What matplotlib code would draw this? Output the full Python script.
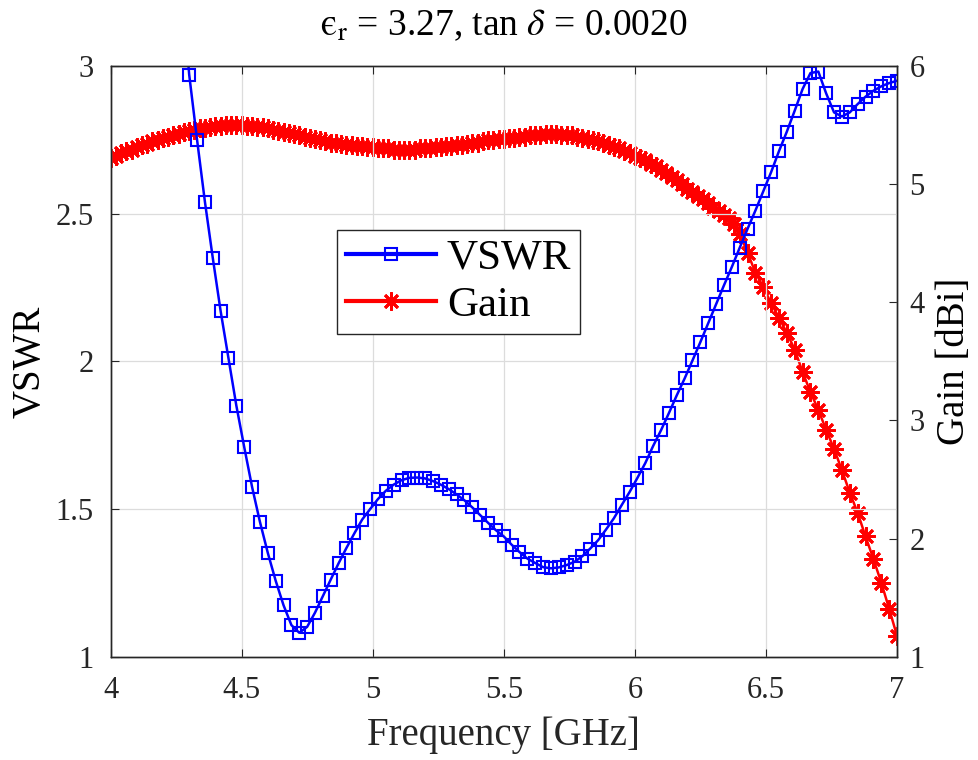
import numpy as np
import matplotlib
matplotlib.use("Agg")
import matplotlib.pyplot as plt

plt.rcParams['font.family'] = ['Liberation Serif', 'DejaVu Serif']
plt.rcParams['mathtext.fontset'] = 'stix'

# VSWR, every 0.03 GHz from 4.27 GHz
vswr = [3.30, 2.97, 2.75, 2.54, 2.35, 2.17, 2.01, 1.85, 1.71, 1.575,
        1.457, 1.352, 1.258, 1.175, 1.108, 1.082, 1.102, 1.150, 1.206, 1.262,
        1.317, 1.369, 1.418, 1.465, 1.500, 1.534, 1.562, 1.583, 1.598, 1.606,
        1.607, 1.604, 1.595, 1.583, 1.568, 1.550, 1.530, 1.506, 1.480, 1.454,
        1.429, 1.408, 1.380, 1.355, 1.333, 1.318, 1.304, 1.300, 1.303, 1.311,
        1.322, 1.341, 1.367, 1.395, 1.431, 1.469, 1.514, 1.558, 1.606, 1.656,
        1.714, 1.767, 1.825, 1.885, 1.942, 2.003, 2.065, 2.129, 2.193, 2.257,
        2.319, 2.384, 2.448, 2.510, 2.575, 2.640, 2.711, 2.777, 2.848, 2.921,
        2.975, 2.980, 2.906, 2.842, 2.828, 2.842, 2.870, 2.895, 2.915, 2.930,
        2.941, 2.949]
f_vswr = np.round(4.27 + 0.03 * np.arange(len(vswr)), 2)

# Gain [dBi], every 0.02 GHz from 4.00 to 6.38
gain_a = [5.22, 5.24, 5.26, 5.28, 5.29, 5.31, 5.33, 5.34, 5.36, 5.37,
          5.39, 5.40, 5.41, 5.42, 5.44, 5.45, 5.46, 5.47, 5.47, 5.48,
          5.49, 5.49, 5.50, 5.50, 5.50, 5.50, 5.49, 5.49, 5.48, 5.48,
          5.47, 5.46, 5.45, 5.44, 5.43, 5.42, 5.41, 5.40, 5.39, 5.38,
          5.37, 5.36, 5.35, 5.35, 5.34, 5.33, 5.33, 5.32, 5.32, 5.31,
          5.31, 5.30, 5.30, 5.30, 5.29, 5.29, 5.29, 5.29, 5.29, 5.30,
          5.30, 5.30, 5.31, 5.31, 5.32, 5.32, 5.33, 5.33, 5.34, 5.35,
          5.35, 5.36, 5.37, 5.37, 5.38, 5.38, 5.39, 5.39, 5.40, 5.40,
          5.41, 5.41, 5.41, 5.42, 5.42, 5.42, 5.41, 5.41, 5.41, 5.40,
          5.39, 5.38, 5.37, 5.36, 5.35, 5.33, 5.31, 5.30, 5.28, 5.26,
          5.24, 5.22, 5.20, 5.17, 5.15, 5.12, 5.09, 5.06, 5.03, 5.00,
          4.96, 4.93, 4.90, 4.87, 4.84, 4.80, 4.77, 4.74, 4.71, 4.66]
# Gain [dBi], every 0.03 GHz from 6.40 to 7.00
gain_b = [4.58, 4.42, 4.25, 4.13, 3.99, 3.87, 3.74, 3.60, 3.41, 3.24,
          3.09, 2.92, 2.76, 2.58, 2.39, 2.22, 2.02, 1.83, 1.63, 1.41,
          1.18]
f_gain = np.concatenate([np.round(4.0 + 0.02 * np.arange(len(gain_a)), 2),
                         np.round(6.4 + 0.03 * np.arange(len(gain_b)), 2)])
gain = np.array(gain_a + gain_b)

dark = '#262626'

fig = plt.figure(figsize=(9.79, 7.60), dpi=100)
ax = fig.add_axes([0.1129, 0.1355, 0.8033, 0.7781])
ax2 = ax.twinx()

l1, = ax.plot(f_vswr, vswr, color='#0000ff', lw=1.8, marker='s', ms=8,
              mfc='none', mec='#0000ff', mew=1.5, label='VSWR')
l2, = ax2.plot(f_gain, gain, color='#ff0000', lw=1.8, marker=(8, 2, 0), ms=13,
               mec='#ff0000', mew=2.0, label='Gain')

# VSWR drawn above gain
ax.set_zorder(ax2.get_zorder() + 1)
ax.patch.set_visible(False)

ax.set_xlim(4, 7)
ax.set_ylim(1, 3)
ax2.set_ylim(1, 6)
ax.set_xticks([4, 4.5, 5, 5.5, 6, 6.5, 7])
ax.set_xticklabels(['4', '4.5', '5', '5.5', '6', '6.5', '7'])
ax.set_yticks([1, 1.5, 2, 2.5, 3])
ax.set_yticklabels(['1', '1.5', '2', '2.5', '3'])
ax2.set_yticks([1, 2, 3, 4, 5, 6])

ax.grid(True, color='#dcdcdc', lw=0.9)
ax.set_axisbelow(True)

ax.tick_params(direction='in', length=6, width=0.8, top=True, colors=dark,
               labelsize=22, pad=12)
ax.tick_params(axis='x', pad=14)
ax2.tick_params(direction='in', length=6, width=0.8, colors=dark,
                labelsize=22, pad=9)
for a in (ax, ax2):
    for s in a.spines.values():
        s.set_color(dark)
        s.set_linewidth(1.0)

ax.set_xlabel('Frequency [GHz]', fontsize=28, color=dark, labelpad=8)
ax.set_ylabel('VSWR', fontsize=28, color='black', labelpad=5)
ax2.set_ylabel('Gain [dBi]', fontsize=28, color='black', labelpad=8)
ax.set_title(r'$\mathrm{ϵ}_{\mathrm{r}}$ = 3.27, tan $\delta$ = 0.0020',
             fontsize=27, pad=22)

leg = ax.legend([l1, l2], ['VSWR', 'Gain'], loc='center',
                bbox_to_anchor=(0.4683, 0.629), bbox_transform=fig.transFigure,
                fontsize=31, fancybox=False, edgecolor=dark, framealpha=1,
                handlelength=2.1, borderpad=0.2, labelspacing=0.2,
                handletextpad=0.25, borderaxespad=0)
leg.get_frame().set_linewidth(1.0)
for ln in leg.get_lines():
    ln.set_linewidth(3.0)

fig.savefig('out.png', dpi=100)
